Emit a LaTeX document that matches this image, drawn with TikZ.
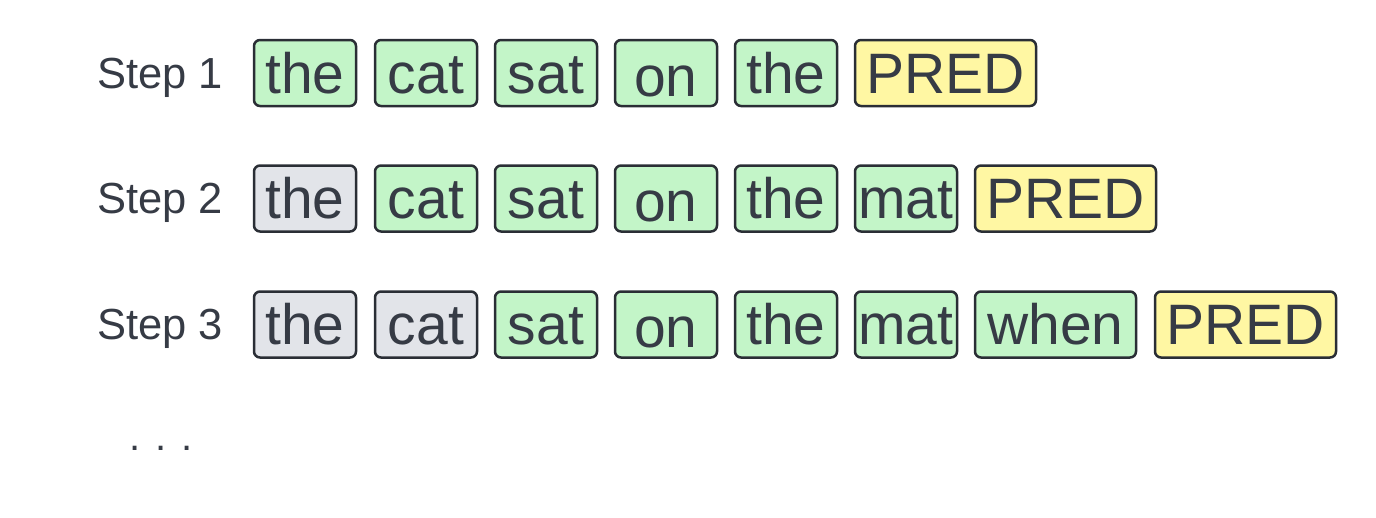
\documentclass[tikz,border=0pt]{standalone}
\usepackage{fontspec}
\setmainfont{Liberation Sans}
\definecolor{ink}{HTML}{363B45}
\definecolor{edge}{HTML}{2A2E35}
\definecolor{tokgreen}{HTML}{C3F5C8}
\definecolor{tokgrey}{HTML}{E2E4E9}
\definecolor{tokyellow}{HTML}{FFF7A3}
\begin{document}
\begin{tikzpicture}[x=1pt,y=-1pt,
  tok/.style={draw=edge, line width=2.5pt, rounded corners=6pt, text=ink,
    font=\fontsize{57}{57}\selectfont, inner xsep=0pt, inner ysep=0pt,
    text height=53pt, text depth=13pt, minimum width=102pt, minimum height=66pt,
    anchor=center},
  ctx/.style={tok, fill=tokgreen},
  low/.style={text height=56pt, text depth=10pt},
  old/.style={tok, fill=tokgrey},
  pred/.style={tok, fill=tokyellow, minimum width=181pt},
  steplabel/.style={text=ink, font=\fontsize{43.5}{43.5}\selectfont, inner sep=0pt, anchor=base west},
  dotlabel/.style={text=ink, font=\fontsize{40}{40}\selectfont, inner sep=0pt, anchor=base west}
]
\useasboundingbox (0,0) rectangle (1376,517);
% Step 1
\node[steplabel] (s1) at (97,88) {Step 1};
\node[ctx] (a1) at (305,73) {the};
\node[ctx] (a2) at (426,73) {cat};
\node[ctx] (a3) at (546,73) {sat};
\node[ctx, low] (a4) at (666,73) {on};
\node[ctx] (a5) at (786,73) {the};
\node[pred] (a6) at (945.5,73) {PRED};
% Step 2
\node[steplabel] (s2) at (97,213.5) {Step 2};
\node[old] (b1) at (305,198.5) {the};
\node[ctx] (b2) at (426,198.5) {cat};
\node[ctx] (b3) at (546,198.5) {sat};
\node[ctx, low] (b4) at (666,198.5) {on};
\node[ctx] (b5) at (786,198.5) {the};
\node[ctx] (b6) at (906,198.5) {mat};
\node[pred] (b7) at (1065.5,198.5) {PRED};
% Step 3
\node[steplabel] (s3) at (97,339.5) {Step 3};
\node[old] (c1) at (305,324.5) {the};
\node[old] (c2) at (426,324.5) {cat};
\node[ctx] (c3) at (546,324.5) {sat};
\node[ctx, low] (c4) at (666,324.5) {on};
\node[ctx] (c5) at (786,324.5) {the};
\node[ctx] (c6) at (906,324.5) {mat};
\node[ctx, minimum width=161pt] (c7) at (1055.5,324.5) {when};
\node[pred] (c8) at (1245.5,324.5) {PRED};
% dots
\node[dotlabel] (dots) at (129,450) {. . .};
\end{tikzpicture}
\end{document}
